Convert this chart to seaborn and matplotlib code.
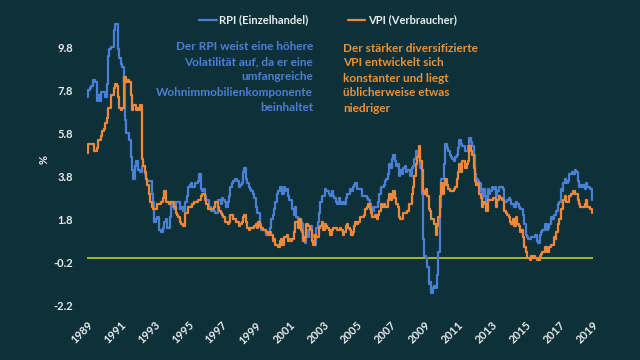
import numpy as np
import pandas as pd
import matplotlib.pyplot as plt
from matplotlib.lines import Line2D
import seaborn as sns

# monatliche Inflationsraten (%), Jan 1989 - Dez 2018, eine Zeile pro Jahr
rpi = [
    7.5, 7.8, 7.9, 8.0, 8.3, 8.3, 8.2, 7.3, 7.6, 7.3, 7.7, 7.7,
    7.7, 7.5, 8.1, 9.4, 9.7, 9.8, 9.8, 10.6, 10.9, 10.9, 9.7, 9.3,
    9.0, 8.9, 8.2, 6.4, 5.8, 5.8, 5.5, 4.7, 4.1, 3.7, 4.3, 4.5,
    4.1, 4.1, 4.0, 4.3, 4.3, 3.9, 3.7, 3.6, 3.6, 3.6, 3.0, 2.6,
    1.7, 1.8, 1.9, 1.3, 1.3, 1.2, 1.4, 1.7, 1.8, 1.4, 1.4, 1.9,
    2.5, 2.4, 2.3, 2.6, 2.6, 2.6, 2.3, 2.4, 2.2, 2.2, 2.6, 2.9,
    3.3, 3.4, 3.5, 3.3, 3.3, 3.5, 3.5, 3.6, 3.9, 3.2, 3.1, 3.2,
    2.9, 2.7, 2.7, 2.4, 2.2, 2.2, 2.2, 2.1, 2.1, 2.7, 2.7, 2.5,
    2.8, 2.7, 2.6, 2.4, 2.6, 2.9, 3.3, 3.5, 3.6, 3.7, 3.7, 3.6,
    3.3, 3.4, 3.5, 4.0, 4.2, 3.7, 3.5, 3.3, 3.2, 3.1, 3.0, 2.8,
    2.4, 2.1, 2.1, 1.6, 1.3, 1.3, 1.3, 1.1, 1.1, 1.2, 1.4, 1.8,
    2.0, 2.3, 2.6, 3.0, 3.1, 3.3, 3.3, 3.0, 3.3, 3.1, 3.2, 2.9,
    2.7, 2.7, 2.3, 2.0, 2.4, 1.9, 1.5, 1.8, 1.7, 1.6, 0.9, 0.7,
    1.3, 1.0, 1.3, 1.5, 1.1, 1.0, 0.6, 1.4, 1.7, 2.1, 2.6, 2.9,
    2.9, 3.2, 3.1, 3.1, 3.0, 2.9, 3.1, 2.9, 2.8, 2.6, 2.5, 2.8,
    2.6, 2.5, 2.6, 2.5, 2.8, 3.0, 3.0, 3.2, 3.1, 3.3, 3.4, 3.5,
    3.2, 3.2, 3.2, 3.2, 2.9, 2.9, 2.9, 2.8, 2.7, 2.5, 2.4, 2.2,
    2.4, 2.4, 2.4, 2.6, 3.0, 3.3, 3.3, 3.4, 3.6, 3.7, 3.9, 4.4,
    4.2, 4.6, 4.8, 4.5, 4.3, 4.4, 3.8, 4.1, 3.9, 4.2, 4.3, 4.0,
    4.1, 4.1, 3.8, 4.2, 4.3, 4.6, 5.0, 4.8, 5.0, 4.2, 3.0, 0.9,
    0.1, 0.0, -0.4, -1.2, -1.1, -1.6, -1.4, -1.3, -1.4, -0.8, 0.3, 2.4,
    3.7, 3.7, 4.4, 5.3, 5.1, 5.0, 4.8, 4.7, 4.6, 4.5, 4.7, 4.8,
    5.1, 5.5, 5.3, 5.2, 5.2, 5.0, 5.0, 5.2, 5.6, 5.4, 5.2, 4.8,
    3.9, 3.7, 3.6, 3.5, 3.1, 2.8, 3.2, 2.9, 2.6, 3.2, 3.0, 3.1,
    3.3, 3.2, 3.3, 2.9, 3.1, 3.3, 3.3, 3.3, 3.2, 2.6, 2.6, 2.7,
    2.8, 2.7, 2.5, 2.5, 2.4, 2.6, 2.5, 2.4, 2.3, 2.3, 2.0, 1.6,
    1.1, 1.0, 0.9, 0.9, 1.0, 1.0, 1.0, 1.1, 0.8, 0.7, 1.1, 1.2,
    1.3, 1.3, 1.6, 1.3, 1.4, 1.6, 1.9, 1.8, 2.0, 2.0, 2.2, 2.5,
    2.6, 3.2, 3.1, 3.5, 3.7, 3.5, 3.6, 3.9, 3.9, 4.0, 3.9, 4.1,
    4.0, 3.6, 3.3, 3.4, 3.3, 3.4, 3.2, 3.5, 3.3, 3.3, 3.2, 2.7,
]
vpi = [
    4.9, 5.3, 5.3, 5.3, 5.3, 5.0, 5.0, 5.1, 5.5, 5.5, 5.7, 5.9,
    6.0, 6.3, 6.5, 7.0, 7.0, 7.6, 7.6, 7.9, 8.1, 8.0, 7.5, 7.0,
    6.9, 7.0, 8.4, 8.4, 8.2, 8.3, 8.2, 7.6, 6.9, 7.1, 7.1, 6.9,
    7.0, 6.9, 7.1, 4.6, 4.3, 4.0, 3.7, 3.4, 3.0, 2.6, 2.4, 2.3,
    2.3, 2.3, 2.5, 2.5, 2.5, 2.6, 2.8, 3.1, 2.6, 2.6, 2.5, 2.6,
    2.6, 2.6, 2.4, 2.1, 2.0, 1.9, 1.7, 1.6, 1.5, 1.5, 2.1, 2.1,
    2.4, 2.4, 2.4, 2.5, 2.6, 2.6, 2.6, 2.7, 2.7, 2.9, 3.0, 3.0,
    2.7, 2.5, 2.3, 2.3, 2.3, 2.3, 2.4, 2.6, 2.6, 2.4, 2.2, 2.1,
    2.0, 1.9, 1.7, 1.7, 1.6, 1.7, 2.0, 2.0, 1.8, 1.8, 1.7, 1.7,
    1.5, 1.6, 1.7, 1.9, 2.0, 1.7, 1.4, 1.3, 1.4, 1.4, 1.4, 1.5,
    1.6, 1.4, 1.7, 1.5, 1.4, 1.3, 1.3, 1.2, 1.2, 1.1, 1.2, 1.1,
    0.8, 0.9, 0.6, 0.6, 0.5, 0.8, 0.9, 0.6, 1.0, 1.0, 1.1, 0.8,
    0.9, 0.8, 0.9, 1.2, 1.7, 1.7, 1.4, 1.8, 1.3, 1.2, 0.8, 1.0,
    1.6, 1.5, 1.5, 1.3, 0.8, 0.6, 1.1, 1.0, 1.0, 1.4, 1.5, 1.7,
    1.3, 1.6, 1.5, 1.4, 1.3, 1.1, 1.3, 1.4, 1.4, 1.4, 1.3, 1.3,
    1.4, 1.3, 1.1, 1.2, 1.5, 1.6, 1.4, 1.3, 1.1, 1.2, 1.5, 1.7,
    1.6, 1.7, 1.9, 1.9, 1.9, 2.0, 2.3, 2.4, 2.5, 2.3, 2.1, 1.9,
    1.9, 2.0, 1.8, 2.0, 2.2, 2.5, 2.4, 2.5, 2.4, 2.4, 2.7, 3.0,
    2.7, 2.8, 3.1, 2.8, 2.5, 2.4, 1.9, 1.8, 1.8, 2.1, 2.1, 2.1,
    2.2, 2.5, 2.5, 3.0, 3.3, 3.8, 4.4, 4.7, 5.2, 4.5, 4.1, 3.1,
    3.0, 3.2, 2.9, 2.3, 2.2, 1.8, 1.8, 1.6, 1.1, 1.5, 1.9, 2.9,
    3.5, 3.0, 3.4, 3.7, 3.4, 3.2, 3.1, 3.1, 3.1, 3.2, 3.3, 3.7,
    4.0, 4.4, 4.0, 4.5, 4.5, 4.2, 4.4, 4.5, 5.2, 5.0, 4.8, 4.2,
    3.6, 3.4, 3.5, 3.0, 2.8, 2.4, 2.6, 2.5, 2.2, 2.7, 2.7, 2.7,
    2.7, 2.8, 2.8, 2.4, 2.7, 2.9, 2.8, 2.7, 2.7, 2.2, 2.1, 2.0,
    1.9, 1.7, 1.6, 1.8, 1.5, 1.9, 1.6, 1.5, 1.2, 1.3, 1.0, 0.5,
    0.3, 0.0, 0.0, -0.1, 0.1, 0.0, 0.1, 0.0, -0.1, -0.1, 0.1, 0.2,
    0.3, 0.3, 0.5, 0.3, 0.3, 0.5, 0.6, 0.6, 1.0, 0.9, 1.2, 1.6,
    1.8, 2.3, 2.3, 2.7, 2.9, 2.6, 2.6, 2.9, 3.0, 3.0, 3.1, 3.0,
    3.0, 2.7, 2.5, 2.4, 2.4, 2.4, 2.5, 2.7, 2.4, 2.4, 2.3, 2.1,
]
series_names = ["RPI (Einzelhandel)", "VPI (Verbraucher)"]
start_year = 1989
year_ticks = list(range(1989, 2020, 2))
y_ticks = [-2.2, -0.2, 1.8, 3.8, 5.8, 7.8, 9.8]

rpi_note = ["Der RPI weist eine höhere", "Volatilität auf, da er eine",
            "umfangreiche", "Wohnimmobilienkomponente", "beinhaltet"]
vpi_note = ["Der stärker diversifizierte", "VPI entwickelt sich",
            "konstanter und liegt", "üblicherweise etwas", "niedriger"]

bg = "#0e3139"
blue = "#4a7fd6"
orange = "#f0873a"
note_orange = "#e8923a"
zero_col = "#b5c414"
txt = "#e6ecee"

t = start_year + np.arange(len(rpi)) / 12
df = pd.DataFrame({
    "Jahr": np.concatenate([t, t]),
    "Wert": rpi + vpi,
    "Index": [series_names[0]] * len(rpi) + [series_names[1]] * len(vpi),
})

sns.set_theme(style="dark", rc={"figure.facecolor": bg, "axes.facecolor": bg})
plt.rcParams["font.family"] = ["Lato", "DejaVu Sans"]

fig = plt.figure(figsize=(6.4, 3.6), dpi=100)
ax = fig.add_axes([87 / 640, 1 - 305.6 / 360, (593 - 87) / 640, (305.6 - 4.2) / 360])

ax.axhline(0, color=zero_col, lw=1.3, zorder=1)
sns.lineplot(data=df, x="Jahr", y="Wert", hue="Index",
             palette=[blue, orange], drawstyle="steps-post",
             linewidth=1.6, legend=False, ax=ax, zorder=2)

ax.set_xlim(1989, 2019)
ax.set_ylim(-2.2, 11.8)
ax.set_xticks(year_ticks)
ax.set_xticklabels([str(y) for y in year_ticks], rotation=45, ha="right",
                   rotation_mode="anchor", fontsize=8, fontweight="bold", color=txt)
ax.set_yticks(y_ticks)
ax.set_yticklabels([f"{v:.1f}" for v in y_ticks], fontsize=8,
                   fontweight="bold", color=txt)
ax.tick_params(axis="x", pad=10, length=0)
ax.tick_params(axis="y", pad=10, length=0)
ax.set_xlabel("")
ax.set_ylabel("")
ax.grid(False)
for s in ax.spines.values():
    s.set_visible(False)

fig.text(44 / 640, 1 - 160 / 360, "%", rotation=90, ha="center", va="center",
         fontsize=8, fontweight="bold", color=txt)

handles = [Line2D([0], [0], color=blue, lw=1.6), Line2D([0], [0], color=orange, lw=1.6)]
leg = fig.legend(handles, series_names, loc="center", ncol=2,
                 bbox_to_anchor=(328 / 640, 1 - 20 / 360), frameon=False,
                 handlelength=1.6, handletextpad=0.2, columnspacing=3.5,
                 prop={"weight": "bold", "size": 8})
for tx in leg.get_texts():
    tx.set_color(txt)

for i, line in enumerate(rpi_note):
    fig.text(313 / 640, 1 - (47 + 15 * i) / 360, line, ha="right", va="center",
             fontsize=8.5, fontweight="bold", color=blue)
for i, line in enumerate(vpi_note):
    fig.text(343 / 640, 1 - (48 + 15 * i) / 360, line, ha="left", va="center",
             fontsize=8.5, fontweight="bold", color=note_orange)

fig.savefig("out.png", dpi=100, facecolor=bg)
